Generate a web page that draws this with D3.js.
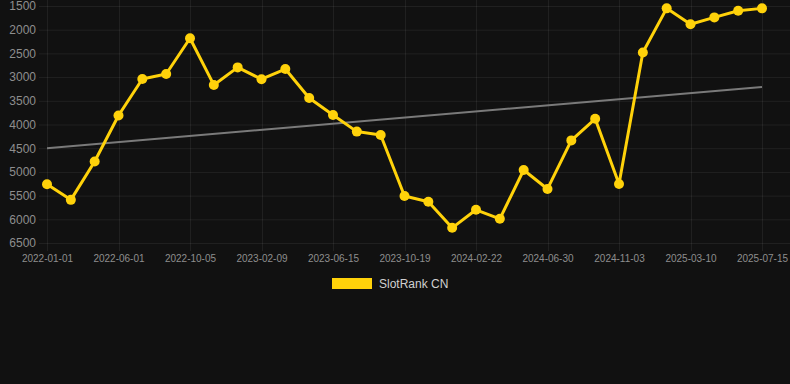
<!DOCTYPE html>
<html><head><meta charset="utf-8">
<script src="https://cdn.jsdelivr.net/npm/d3@7"></script>
<style>
html,body{margin:0;padding:0;background:#111111;}
svg{display:block;}
</style></head>
<body>
<svg id="c" width="790" height="384"></svg>
<script>
const dates = ["2022-01-01","2022-02-20","2022-04-11","2022-06-01","2022-07-13","2022-08-24","2022-10-05","2022-11-16","2022-12-28","2023-02-09","2023-03-23","2023-05-04","2023-06-15","2023-07-27","2023-09-07","2023-10-19","2023-11-30","2024-01-11","2024-02-22","2024-04-06","2024-05-18","2024-06-30","2024-08-10","2024-09-22","2024-11-03","2024-12-15","2025-01-27","2025-03-10","2025-04-21","2025-06-03","2025-07-15"];
const ranks = [5260,5590,4780,3810,3040,2935,2180,3165,2795,3045,2830,3440,3800,4150,4220,5510,5630,6180,5800,5990,4960,5360,4335,3880,5255,2480,1550,1885,1740,1600,1550];
const trend = [4500,3210];
const yTicks = [1500,2000,2500,3000,3500,4000,4500,5000,5500,6000,6500];
const xTickLabels = ["2022-01-01","2022-06-01","2022-10-05","2023-02-09","2023-06-15","2023-10-19","2024-02-22","2024-06-30","2024-11-03","2025-03-10","2025-07-15"];
const seriesName = "SlotRank CN";

const svg = d3.select("#c");
const font = "Liberation Sans, Arial, Helvetica, sans-serif";
const x = d3.scalePoint().domain(dates).range([47,762]);
const y = d3.scaleLinear().domain([1500,6500]).range([6,243]);

const gridColor = "rgba(255,255,255,0.065)";
svg.append("g").selectAll("line").data(yTicks).join("line")
  .attr("x1",39).attr("x2",790)
  .attr("y1",d=>y(d)+0.5).attr("y2",d=>y(d)+0.5)
  .attr("stroke",gridColor).attr("stroke-width",1);
svg.append("g").selectAll("line").data(xTickLabels).join("line")
  .attr("x1",d=>Math.round(x(d))+0.5).attr("x2",d=>Math.round(x(d))+0.5)
  .attr("y1",0).attr("y2",251)
  .attr("stroke",gridColor).attr("stroke-width",1);

const ya = svg.append("g").attr("transform","translate(39,0)")
  .call(d3.axisLeft(y).tickValues(yTicks).tickSize(0).tickPadding(3).tickFormat(d3.format("d")));
ya.select(".domain").remove();
ya.selectAll("text").attr("fill","#8e8e8e").style("font-family",font).style("font-size","12px");

const xa = svg.append("g").attr("transform","translate(0,251)")
  .call(d3.axisBottom(x).tickValues(xTickLabels).tickSize(0).tickPadding(4));
xa.select(".domain").remove();
xa.selectAll("text").attr("fill","#8e8e8e").style("font-family",font).style("font-size","10px");

svg.append("line")
  .attr("x1",x(dates[0])).attr("y1",y(trend[0]))
  .attr("x2",x(dates[dates.length-1])).attr("y2",y(trend[1]))
  .attr("stroke","#7a7a7a").attr("stroke-width",2);

const color = "#FFD20A";
const line = d3.line().x((d,i)=>x(dates[i])).y(d=>y(d));
svg.append("path").datum(ranks).attr("d",line)
  .attr("fill","none").attr("stroke",color).attr("stroke-width",3).attr("stroke-linejoin","round");
svg.append("g").selectAll("circle").data(ranks).join("circle")
  .attr("cx",(d,i)=>x(dates[i])).attr("cy",d=>y(d)).attr("r",5)
  .attr("fill",color);

svg.append("rect").attr("x",332).attr("y",278).attr("width",40).attr("height",11).attr("fill",color);
svg.append("text").attr("x",379).attr("y",284).attr("dy","0.35em")
  .attr("fill","#d0d0d0").style("font-family",font).style("font-size","12px").text(seriesName);
</script>
</body></html>
